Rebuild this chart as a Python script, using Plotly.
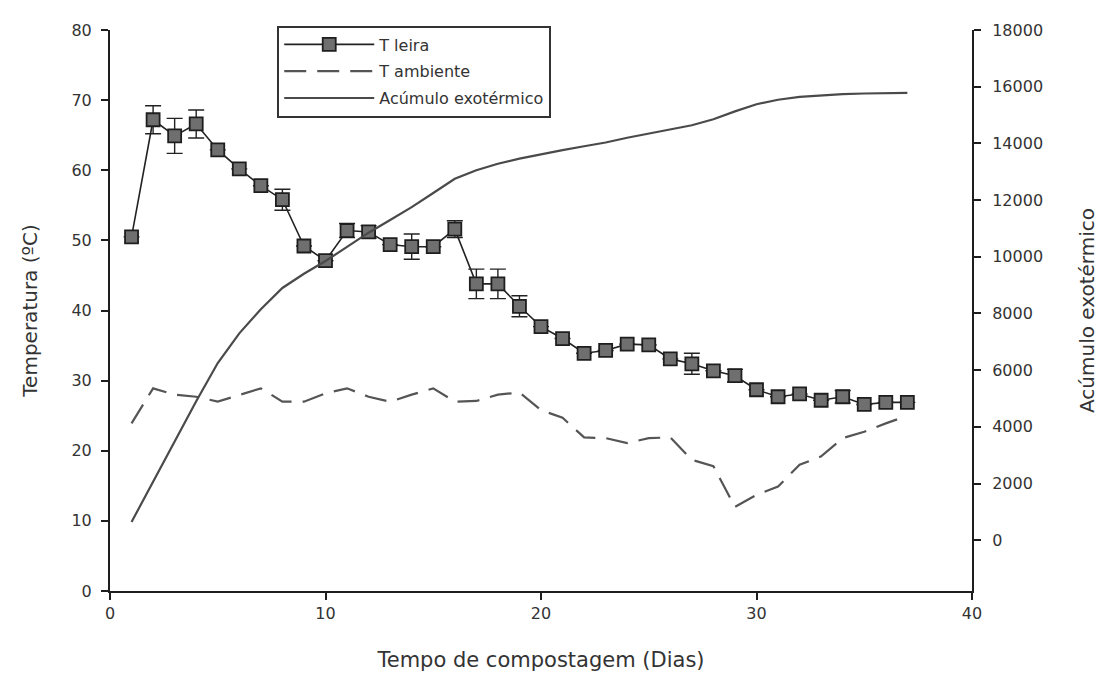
import plotly.graph_objects as go

days = list(range(1, 38))

t_leira = [50.5, 67.2, 64.9, 66.6, 62.9, 60.2, 57.8, 55.8, 49.2, 47.1,
           51.4, 51.2, 49.4, 49.1, 49.1, 51.6, 43.8, 43.8, 40.6, 37.7,
           36.0, 33.9, 34.3, 35.2, 35.1, 33.1, 32.4, 31.4, 30.7, 28.7,
           27.7, 28.1, 27.2, 27.7, 26.6, 26.9, 26.9]

t_leira_err = [0.0, 2.0, 2.5, 2.0, 0.0, 0.0, 0.0, 1.5, 0.0, 0.0,
               1.0, 0.9, 0.0, 1.8, 0.0, 1.2, 2.1, 2.1, 1.5, 0.0,
               0.0, 0.0, 0.0, 0.0, 0.0, 0.0, 1.5, 0.0, 0.9, 0.0,
               0.0, 0.0, 0.0, 0.9, 0.0, 0.0, 0.0]

t_ambiente = [23.9, 28.9, 28.0, 27.7, 27.0, 28.0, 28.9, 27.0, 27.0, 28.2,
              28.9, 27.7, 27.0, 28.0, 28.9, 27.0, 27.1, 28.0, 28.3, 25.8,
              24.7, 21.9, 21.8, 21.1, 21.8, 21.9, 18.7, 17.8, 12.0, 13.7,
              14.9, 18.0, 19.2, 21.8, 22.7, 23.9, 25.0]

acumulo = [645, 2070, 3500, 4900, 6250, 7300, 8150, 8900, 9400, 9850,
           10350, 10850, 11300, 11750, 12250, 12750, 13050, 13280, 13460, 13620,
           13760, 13900, 14030, 14200, 14350, 14480, 14640, 14850, 15130, 15380,
           15540, 15640, 15700, 15740, 15760, 15760, 15780]

x_ticks = [0, 10, 20, 30, 40]
left_ticks = [0, 10, 20, 30, 40, 50, 60, 70, 80]
right_ticks = [0, 2000, 4000, 6000, 8000, 10000, 12000, 14000, 16000, 18000]

FONT = "DejaVu Sans, Liberation Sans, Arial, sans-serif"
TXT = "#333333"

fig = go.Figure()

fig.add_trace(go.Scatter(
    x=days, y=t_leira, name="T leira", mode="lines+markers",
    legendgroup="a",
    line=dict(color="#222222", width=1.6),
    marker=dict(symbol="square", size=13, color="#6f6f6f",
                line=dict(color="#1e1e1e", width=1.8)),
    error_y=dict(type="data", array=t_leira_err, visible=True,
                 color="#222222", thickness=1.4, width=8),
))

fig.add_trace(go.Scatter(
    x=days, y=t_ambiente, name="T ambiente", mode="lines",
    legendgroup="b",
    line=dict(color="#555555", width=2.2, dash="22px,11px"),
))

fig.add_trace(go.Scatter(
    x=days, y=acumulo, name="Acúmulo exotérmico", mode="lines",
    legendgroup="c",
    line=dict(color="#4a4a4a", width=2.2), yaxis="y2",
))

axis_common = dict(
    showgrid=False, zeroline=False, showline=True, linecolor="#1e1e1e",
    linewidth=2, ticks="outside", ticklen=7, tickwidth=1.5, tickcolor="#1e1e1e",
    tickfont=dict(family=FONT, size=16, color=TXT),
)

fig.update_layout(
    width=1110, height=684,
    paper_bgcolor="white", plot_bgcolor="white",
    margin=dict(l=110, r=138, t=30, b=93),
    font=dict(family=FONT, color=TXT),
    xaxis=dict(range=[0, 40], tickvals=x_ticks, ticklabelstandoff=0,
               title=dict(text="Tempo de compostagem (Dias)",
                          font=dict(family=FONT, size=21, color=TXT), standoff=30),
               **axis_common),
    yaxis=dict(range=[0, 80], tickvals=left_ticks, ticklabelstandoff=6,
               title=dict(text="Temperatura (ºC)",
                          font=dict(family=FONT, size=20, color=TXT), standoff=28),
               **axis_common),
    yaxis2=dict(range=[-1790, 18000], tickvals=right_ticks, tickformat="d",
                ticklabelstandoff=8,
                overlaying="y", side="right",
                title=dict(text="Acúmulo exotérmico",
                           font=dict(family=FONT, size=20, color=TXT), standoff=38),
                **axis_common),
    legend=dict(x=0.194, y=1.008, xanchor="left", yanchor="top",
                bordercolor="#333333", borderwidth=2, bgcolor="white",
                font=dict(family=FONT, size=16, color=TXT),
                itemwidth=90, traceorder="grouped", tracegroupgap=3),
    showlegend=True,
)

fig.write_html("out.html")
